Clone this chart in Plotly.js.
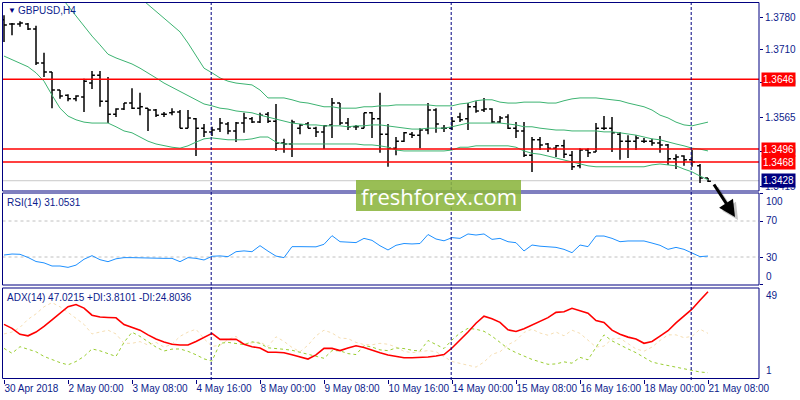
<!DOCTYPE html>
<html>
<head>
<meta charset="utf-8">
<script src="https://cdn.plot.ly/plotly-3.0.1.min.js"></script>
<style>html,body{margin:0;padding:0;background:#fff;}#chart{width:800px;height:400px;}</style>
</head>
<body>
<div id="chart"></div>
<script>
// ---------------- DATA ----------------
const symbolLabel = 'GBPUSD,H4';
const rsiLabel = 'RSI(14) 31.0531';
const adxLabel = 'ADX(14) 47.0215 +DI:3.8101 -DI:24.8036';
const watermarkText = 'freshforex.com';

const barOpen = [1.3774,1.3765,1.3765,1.3765,1.3754,1.3681,1.3662,1.3623,1.3612,1.3604,
1.3608,1.3638,1.3655,1.3599,1.3571,1.3582,1.3595,1.3584,1.3584,1.3580,
1.3571,1.3574,1.3576,1.3541,1.3561,1.3541,1.3533,1.3539,1.3550,1.3535,
1.3552,1.3561,1.3554,1.3571,1.3556,1.3509,1.3507,1.3541,1.3550,1.3541,
1.3533,1.3548,1.3595,1.3552,1.3544,1.3541,1.3574,1.3561,1.3528,1.3498,
1.3513,1.3528,1.3526,1.3537,1.3580,1.3541,1.3541,1.3565,1.3561,1.3587,
1.3580,1.3582,1.3554,1.3565,1.3541,1.3535,1.3483,1.3516,1.3507,1.3498,
1.3503,1.3483,1.3460,1.3494,1.3490,1.3541,1.3541,1.3528,1.3513,1.3513,
1.3513,1.3513,1.3509,1.3505,1.3475,1.3481,1.3473,1.3460,1.3434];
const barHigh = [1.3784,1.3767,1.3771,1.3767,1.3761,1.3703,1.3662,1.3623,1.3614,1.3612,
1.3647,1.3664,1.3664,1.3651,1.3584,1.3595,1.3627,1.3617,1.3584,1.3582,
1.3576,1.3584,1.3580,1.3580,1.3563,1.3550,1.3544,1.3563,1.3554,1.3554,
1.3574,1.3565,1.3574,1.3576,1.3593,1.3518,1.3559,1.3550,1.3554,1.3544,
1.3548,1.3606,1.3595,1.3563,1.3548,1.3574,1.3576,1.3617,1.3550,1.3522,
1.3533,1.3533,1.3541,1.3595,1.3584,1.3548,1.3565,1.3574,1.3595,1.3599,
1.3606,1.3584,1.3567,1.3571,1.3554,1.3554,1.3522,1.3522,1.3509,1.3505,
1.3516,1.3492,1.3498,1.3498,1.3552,1.3567,1.3565,1.3533,1.3526,1.3526,
1.3520,1.3518,1.3524,1.3507,1.3485,1.3483,1.3494,1.3464,1.3434];
const barLow = [1.3726,1.3741,1.3759,1.3752,1.3677,1.3651,1.3584,1.3604,1.3599,1.3599,
1.3576,1.3625,1.3587,1.3552,1.3565,1.3580,1.3582,1.3569,1.3535,1.3565,
1.3565,1.3569,1.3541,1.3541,1.3481,1.3522,1.3524,1.3533,1.3528,1.3511,
1.3531,1.3552,1.3552,1.3552,1.3492,1.3488,1.3479,1.3528,1.3541,1.3522,
1.3496,1.3520,1.3548,1.3537,1.3537,1.3541,1.3520,1.3488,1.3458,1.3483,
1.3511,1.3520,1.3498,1.3528,1.3531,1.3533,1.3537,1.3554,1.3537,1.3574,
1.3576,1.3552,1.3552,1.3539,1.3520,1.3479,1.3447,1.3494,1.3490,1.3479,
1.3477,1.3451,1.3455,1.3479,1.3490,1.3537,1.3490,1.3473,1.3477,1.3494,
1.3509,1.3503,1.3488,1.3462,1.3453,1.3460,1.3458,1.3423,1.3425];
const barClose = [1.3763,1.3765,1.3767,1.3754,1.3681,1.3662,1.3623,1.3610,1.3604,1.3610,
1.3642,1.3655,1.3599,1.3571,1.3582,1.3595,1.3584,1.3587,1.3580,1.3569,
1.3571,1.3576,1.3541,1.3563,1.3541,1.3533,1.3537,1.3552,1.3535,1.3552,
1.3563,1.3554,1.3569,1.3556,1.3509,1.3507,1.3554,1.3548,1.3541,1.3533,
1.3546,1.3595,1.3552,1.3544,1.3544,1.3574,1.3561,1.3528,1.3498,1.3513,
1.3531,1.3526,1.3537,1.3580,1.3550,1.3541,1.3556,1.3559,1.3587,1.3578,
1.3582,1.3554,1.3563,1.3541,1.3535,1.3483,1.3516,1.3505,1.3498,1.3503,
1.3485,1.3458,1.3494,1.3488,1.3541,1.3541,1.3531,1.3513,1.3513,1.3520,
1.3513,1.3509,1.3505,1.3475,1.3479,1.3473,1.3468,1.3434,1.3427];

const bbUpper = [null,null,null,null,null,null,null,null,null,null,
null,null,null,null,null,1.3851,1.3836,1.3821,1.3806,1.3791,
1.3776,1.3761,1.3748,1.3724,1.3698,1.3670,1.3660,1.3649,1.3642,1.3638,
1.3636,1.3634,1.3623,1.3606,1.3606,1.3606,1.3602,1.3597,1.3595,1.3591,
1.3587,1.3587,1.3584,1.3584,1.3584,1.3587,1.3587,1.3589,1.3589,1.3591,
1.3591,1.3591,1.3591,1.3591,1.3589,1.3589,1.3589,1.3593,1.3595,1.3600,
1.3602,1.3602,1.3597,1.3595,1.3595,1.3597,1.3597,1.3597,1.3595,1.3595,
1.3600,1.3604,1.3606,1.3606,1.3606,1.3604,1.3602,1.3600,1.3595,1.3591,
1.3587,1.3580,1.3569,1.3563,1.3554,1.3548,1.3546,1.3550,1.3554];
const bbMiddle = [null,null,null,null,null,null,1.3845,1.3826,1.3804,1.3782,
1.3761,1.3739,1.3720,1.3700,1.3692,1.3685,1.3679,1.3670,1.3660,1.3649,
1.3638,1.3629,1.3621,1.3612,1.3602,1.3593,1.3589,1.3584,1.3582,1.3578,
1.3576,1.3574,1.3569,1.3565,1.3561,1.3556,1.3552,1.3550,1.3548,1.3548,
1.3546,1.3546,1.3546,1.3544,1.3546,1.3546,1.3548,1.3548,1.3546,1.3544,
1.3541,1.3539,1.3539,1.3541,1.3541,1.3541,1.3544,1.3548,1.3552,1.3552,
1.3552,1.3552,1.3552,1.3550,1.3548,1.3544,1.3544,1.3541,1.3539,1.3537,
1.3537,1.3535,1.3535,1.3535,1.3535,1.3533,1.3533,1.3531,1.3529,1.3526,
1.3522,1.3518,1.3516,1.3511,1.3507,1.3503,1.3498,1.3496,1.3492];
const bbLower = [1.3696,1.3688,1.3681,1.3673,1.3660,1.3642,1.3612,1.3584,1.3567,1.3559,
1.3554,1.3552,1.3552,1.3552,1.3544,1.3535,1.3531,1.3522,1.3513,1.3507,
1.3503,1.3500,1.3498,1.3503,1.3511,1.3518,1.3520,1.3518,1.3516,1.3516,
1.3516,1.3518,1.3522,1.3522,1.3511,1.3507,1.3507,1.3507,1.3507,1.3507,
1.3507,1.3507,1.3507,1.3507,1.3507,1.3505,1.3505,1.3503,1.3500,1.3494,
1.3492,1.3492,1.3492,1.3492,1.3492,1.3492,1.3494,1.3500,1.3500,1.3503,
1.3503,1.3503,1.3503,1.3503,1.3500,1.3492,1.3487,1.3485,1.3481,1.3477,
1.3473,1.3468,1.3464,1.3460,1.3458,1.3458,1.3458,1.3458,1.3458,1.3458,
1.3458,1.3462,1.3464,1.3462,1.3460,1.3453,1.3447,1.3438,1.3430];

const rsiValues = [32.2,33.3,33,29.5,25,23.5,20,20,18.5,21,
27.5,31.5,27,24.8,28,29.3,29.3,29,28.5,28.5,
28.5,28.5,24.8,29.3,28.5,26.7,30.8,31.2,30.4,35.9,
36.8,35.9,42.6,36.5,31,29.3,41.5,41.5,41.5,41.3,
44.1,53.7,47,46.5,46,50.7,48.5,42.5,37.8,43,
45,44.5,45,55,50,48,51.5,50.7,55.6,54.4,
55.6,49.6,50.7,47,45.9,36.7,43.3,42,41.5,40.7,
38.5,34.8,43.3,41.5,53.3,53.3,50.7,47,47.8,47.8,
47.8,45.5,43,38.5,40.7,38.5,34.8,30.4,31.05];

const adxValues = [29.6,27.5,24.3,23.5,25.5,28.5,32,35.5,39,40.2,
38.3,34.5,33.5,33.3,33.1,29.5,27.8,26.5,24,21.8,
20.2,19,18.6,18.6,20.5,22.8,24.8,21.6,21.6,21.7,
19,17.7,17,14.7,14.7,14.5,13.4,12.3,11.1,13.3,
16.8,16.8,15.6,17,18.2,17.3,15.8,14.5,13.3,12.5,
11.8,11.8,11.8,12.2,12.7,13.5,17,21.2,25.5,30.2,
34,32.6,30.7,26.7,25.8,27.3,29.3,31.2,33.2,36,
36.3,38.2,36.8,35.6,31.6,30.6,26.5,24.3,22.8,21.8,
19.5,20.5,23.3,26.2,30.4,34.2,37.7,42.5,47.02];
const plusDI = [16.8,14.2,17.7,16.5,15,12.5,10.8,9.2,8,9.8,
12.5,16.5,15.5,14,12.5,20,25.4,23.2,20.2,17.5,
15.4,16.4,16.5,15.2,13.4,11.2,10,19.5,20,19.2,
18.8,20.3,19.5,17.1,16.5,16.3,15.8,14.7,13.6,12.5,
11.5,15.6,15.5,14,13.5,18.3,17.5,16,15.6,17,
16.7,15.8,15.4,21,18.7,16.7,21.3,25,27.5,27,
25.9,23.3,20,16.7,14.5,12.5,10.9,9.6,8.3,8.5,
9.6,8.9,12,10.7,17.5,24,20.8,18.5,16.5,14.5,
11.8,9.5,8.5,7.6,6.7,5.8,4.7,4.2,3.81];
const minusDI = [24.5,25.5,28,32.3,35.2,39,41.2,39,36,32.8,
29.6,24.5,25.5,26.5,24.5,19.5,19.5,20.4,18.6,20,
17.5,19,23.2,25.5,27,22,17.8,18.5,21.5,23.2,
19.3,19.8,20.2,17.8,23,20.5,17.3,15,18.5,23.5,
26.5,25,22.3,22,20,18.8,18.7,19.5,19,17.5,
15.2,14.5,15,15.6,15,12.5,9.8,8.8,7.9,6.8,
9.5,13.6,15,18.7,21,25.3,27,25,23.8,25.5,
23.5,26.5,24.8,21,17.5,18,21.8,22.2,19.3,16.5,
15.3,17.5,21,24,24,22.5,23.2,27,24.80];

const levelPrices = [1.3646, 1.3496, 1.3468];
const levelLabels = ['1.3646', '1.3496', '1.3468'];
const bidPrice = 1.3428;
const bidLabel = '1.3428';
const priceTickVals = [1.3780, 1.3710, 1.3640, 1.3565, 1.3490, 1.3415];
const priceTickText = ['1.3780', '1.3710', '1.3640', '1.3565', '1.3490', '1.3415'];
const rsiLevels = [70, 30];
const rsiScaleLabels = [100, 70, 30, 0];
const adxScaleLabels = [49, 1];
const separatorIdx = [26, 56, 86];
const xTickIdx = [0, 8, 16, 24, 32, 40, 48, 56, 64, 72, 80, 88];
const xTickText = ['30 Apr 2018','2 May 00:00','3 May 08:00','4 May 16:00','8 May 00:00','9 May 08:00',
  '10 May 16:00','14 May 00:00','15 May 08:00','16 May 16:00','18 May 00:00','21 May 08:00'];

// ---------------- LAYOUT / STYLE ----------------
const W = 800, H = 400;
const px = v => v / W;            // horizontal px -> paper
const py = v => 1 - v / H;        // vertical px -> paper
const NAVY = '#000080';
const TXT = '#0c1c8c';
const FONT = "Tahoma, 'Liberation Sans', Arial, sans-serif";
const xDom = [px(2.5), px(759)];
const priceDom = [py(191), py(2.5)];
const rsiDom = [py(285), py(193)];
const adxDom = [py(378.5), py(288)];

const idx = barOpen.map((_, i) => i);

const traces = [
  {type:'scatter', mode:'lines', x: idx, y: bbUpper, xaxis:'x', yaxis:'y', line:{color:'#3cb371', width:1}, hoverinfo:'skip', connectgaps:false},
  {type:'scatter', mode:'lines', x: idx, y: bbMiddle, xaxis:'x', yaxis:'y', line:{color:'#3cb371', width:1}, hoverinfo:'skip', connectgaps:false},
  {type:'scatter', mode:'lines', x: idx, y: bbLower, xaxis:'x', yaxis:'y', line:{color:'#3cb371', width:1}, hoverinfo:'skip'},
  {type:'ohlc', x: idx, open: barOpen, high: barHigh, low: barLow, close: barClose, xaxis:'x', yaxis:'y',
    increasing:{line:{color:'#000000', width:1.5}}, decreasing:{line:{color:'#000000', width:1.5}}, tickwidth:0.36, hoverinfo:'skip'},
  {type:'scatter', mode:'lines', x: idx, y: rsiValues, xaxis:'x', yaxis:'y2', line:{color:'#1e90ff', width:1}, hoverinfo:'skip'},
  {type:'scatter', mode:'lines', x: idx, y: minusDI, xaxis:'x', yaxis:'y3', line:{color:'#f5deb3', width:1, dash:'dot'}, hoverinfo:'skip'},
  {type:'scatter', mode:'lines', x: idx, y: plusDI, xaxis:'x', yaxis:'y3', line:{color:'#9acd32', width:1, dash:'3px,3px'}, hoverinfo:'skip'},
  {type:'scatter', mode:'lines', x: idx, y: adxValues, xaxis:'x', yaxis:'y3', line:{color:'#ff0000', width:1.6}, hoverinfo:'skip'}
];

const shapes = [];
shapes.push({type:'line', xref:'paper', yref:'y', x0:xDom[0], x1:xDom[1], y0:bidPrice, y1:bidPrice, line:{color:'#c8c8c8', width:1}, layer:'below'});
levelPrices.forEach(p => shapes.push({type:'line', xref:'paper', yref:'y', x0:xDom[0], x1:xDom[1], y0:p, y1:p, line:{color:'#ff0000', width:1.5}, layer:'above'}));
rsiLevels.forEach(v => shapes.push({type:'line', xref:'paper', yref:'y2', x0:xDom[0], x1:xDom[1], y0:v, y1:v, line:{color:'#c0c0c0', width:1, dash:'3px,3px'}, layer:'below'}));
separatorIdx.forEach(i => shapes.push({type:'line', xref:'x', yref:'paper', x0:i - 0.1, x1:i - 0.1, y0:py(380), y1:priceDom[1], line:{color:NAVY, width:1, dash:'3px,2px'}, layer:'above'}));
[priceDom, rsiDom, adxDom].forEach(d => shapes.push({type:'rect', xref:'paper', yref:'paper', x0:xDom[0], x1:xDom[1], y0:d[0], y1:d[1], line:{color:NAVY, width:1}, fillcolor:'rgba(0,0,0,0)', layer:'above'}));
shapes.push({type:'rect', xref:'paper', yref:'paper', x0:px(356), x1:px(521), y0:py(211), y1:py(180), line:{width:0}, fillcolor:'rgba(139,181,62,0.88)', layer:'above'});

const annotations = [];
annotations.push({xref:'paper', yref:'paper', x:px(6), y:py(10), xanchor:'left', yanchor:'middle', text:'▼', showarrow:false, font:{family:FONT, size:8, color:NAVY}});
annotations.push({xref:'paper', yref:'paper', x:px(16), y:py(10), xanchor:'left', yanchor:'middle', text:symbolLabel, showarrow:false, font:{family:FONT, size:10, color:TXT}});
annotations.push({xref:'paper', yref:'paper', x:px(5), y:py(202), xanchor:'left', yanchor:'middle', text:rsiLabel, showarrow:false, font:{family:FONT, size:10, color:TXT}});
annotations.push({xref:'paper', yref:'paper', x:px(5), y:py(297), xanchor:'left', yanchor:'middle', text:adxLabel, showarrow:false, font:{family:FONT, size:10, color:TXT}});
levelPrices.forEach((p, k) => annotations.push({xref:'paper', yref:'y', x:px(761), y:p, xanchor:'left', yanchor:'middle', text:levelLabels[k], showarrow:false, bgcolor:'#ff0000', borderpad:1, font:{family:FONT, size:10, color:'#ffffff'}}));
annotations.push({xref:'paper', yref:'y', x:px(761), y:bidPrice, xanchor:'left', yanchor:'middle', text:bidLabel, showarrow:false, bgcolor:NAVY, borderpad:1, font:{family:FONT, size:10, color:'#ffffff'}});
rsiScaleLabels.forEach(v => annotations.push({xref:'paper', yref:'y2', x:px(764), y:v, xanchor:'left',
  yanchor: v === 100 ? 'top' : (v === 0 ? 'bottom' : 'middle'), text:String(v), showarrow:false, font:{family:FONT, size:10, color:TXT}}));
adxScaleLabels.forEach((v, k) => annotations.push({xref:'paper', yref:'y3', x:px(764), y:v, xanchor:'left',
  yanchor: k === 0 ? 'top' : 'bottom', text:String(v), showarrow:false, font:{family:FONT, size:10, color:TXT}}));
annotations.push({xref:'paper', yref:'paper', x:px(438.5), y:py(196), xanchor:'center', yanchor:'middle', text:watermarkText, showarrow:false, font:{family:"'Open Sans', sans-serif", size:22, color:'#ffffff'}});
annotations.push({xref:'paper', yref:'paper', x:px(738), y:py(220), ax:-22, ay:-34, text:'', showarrow:true, arrowhead:2, arrowsize:1.1, arrowwidth:3, arrowcolor:'rgba(0,0,0,0.22)'});
annotations.push({xref:'paper', yref:'paper', x:px(735), y:py(217), ax:-22, ay:-34, text:'', showarrow:true, arrowhead:2, arrowsize:1.1, arrowwidth:3, arrowcolor:'#000000'});

const axisFont = {family:FONT, size:10, color:TXT};
const layout = {
  width: W, height: H,
  margin: {l:0, r:0, t:0, b:0, pad:0},
  paper_bgcolor:'#ffffff', plot_bgcolor:'#ffffff',
  showlegend:false,
  font:{family:FONT, size:10, color:TXT},
  xaxis: {domain:xDom, anchor:'y3', range:[-0.1875, 94.375], showgrid:false, zeroline:false, showline:false,
    tickmode:'array', tickvals:xTickIdx, ticktext:xTickText, ticks:'outside', ticklen:4, tickcolor:NAVY, tickangle:0,
    ticklabelposition:'outside right', tickfont:axisFont, rangeslider:{visible:false}, fixedrange:true},
  yaxis: {domain:priceDom, anchor:'x', side:'right', range:[1.34059, 1.381118], showgrid:false, zeroline:false, showline:false,
    tickmode:'array', tickvals:priceTickVals, ticktext:priceTickText, ticks:'outside', ticklen:3, tickcolor:NAVY, tickfont:axisFont, fixedrange:true},
  yaxis2: {domain:rsiDom, anchor:'x', side:'right', range:[-1.1, 101.1], showgrid:false, zeroline:false, showline:false,
    showticklabels:false, tickmode:'array', tickvals:rsiScaleLabels, ticks:'outside', ticklen:3, tickcolor:NAVY, fixedrange:true},
  yaxis3: {domain:adxDom, anchor:'x', side:'right', range:[0.73, 49], showgrid:false, zeroline:false, showline:false,
    showticklabels:false, ticks:'', fixedrange:true},
  shapes: shapes,
  annotations: annotations
};

Plotly.newPlot('chart', traces, layout, {displayModeBar:false, staticPlot:true});
</script>
</body>
</html>
